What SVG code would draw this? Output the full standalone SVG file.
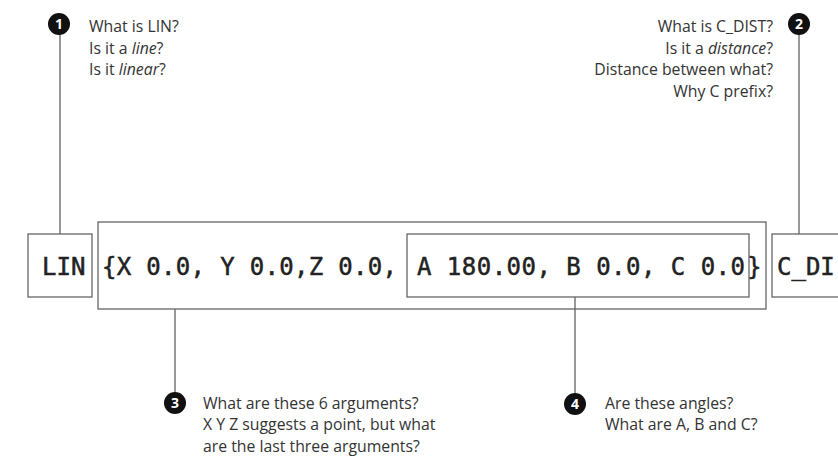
<svg xmlns="http://www.w3.org/2000/svg" width="838" height="457" viewBox="0 0 838 457">
<style>
.q{font-family:"Open Sans","Noto Sans",sans-serif;font-size:15.8px;fill:#333}
.code{font-family:"DejaVu Sans Mono","Liberation Mono",monospace;font-size:24px;fill:#222;stroke:#222;stroke-width:0.5}
.box{fill:none;stroke:#666;stroke-width:1.3}
.ln{stroke:#555;stroke-width:1.2;fill:none}
.badge circle{fill:#111}
.badge text{font-family:"Open Sans",sans-serif;font-size:14px;font-weight:bold;fill:#fff;text-anchor:middle}
</style>
<g id="connectors">
<line class="ln" x1="60" y1="24" x2="60" y2="234"/>
<line class="ln" x1="799" y1="24" x2="799" y2="234"/>
<line class="ln" x1="175" y1="309" x2="175" y2="403"/>
<line class="ln" x1="575" y1="297" x2="575" y2="404"/>
</g>
<g id="lin">
<rect class="box" x="28" y="234" width="64" height="63"/>
<text class="code" x="42" y="275">LIN</text>
</g>
<g id="args">
<rect class="box" x="98" y="222" width="668" height="87"/>
<text class="code" x="102" y="275" textLength="295" lengthAdjust="spacing">{X 0.0, Y 0.0,Z 0.0,</text>
<text class="code" x="747" y="275">}</text>
</g>
<g id="angles">
<rect class="box" x="407" y="234" width="342" height="63"/>
<text class="code" x="417" y="275" textLength="328" lengthAdjust="spacing">A 180.00, B 0.0, C 0.0</text>
</g>
<g id="cdist">
<rect class="box" x="772" y="234" width="80" height="63"/>
<text class="code" x="777" y="275">C_DI</text>
</g>
<g id="note1">
<g class="badge"><circle cx="59" cy="24" r="11"/><text x="59" y="29">1</text></g>
<text class="q" x="89" y="32">What is LIN?</text>
<text class="q" x="89" y="53.5">Is it  a <tspan font-style="italic">line</tspan>?</text>
<text class="q" x="89" y="75">Is it <tspan font-style="italic">linear</tspan>?</text>
</g>
<g id="note2">
<g class="badge"><circle cx="799" cy="24" r="11"/><text x="799" y="29">2</text></g>
<text class="q" x="773" y="32" text-anchor="end">What is C_DIST?</text>
<text class="q" x="773" y="53.5" text-anchor="end">Is it a <tspan font-style="italic">distance</tspan>?</text>
<text class="q" x="773" y="75" text-anchor="end">Distance between what?</text>
<text class="q" x="773" y="96.5" text-anchor="end">Why C prefix?</text>
</g>
<g id="note3">
<g class="badge"><circle cx="175" cy="403" r="11"/><text x="175" y="408">3</text></g>
<text class="q" x="203" y="408.5">What are these 6 arguments?</text>
<text class="q" x="203" y="430">X Y Z suggests a point, but what</text>
<text class="q" x="203" y="451.5">are the last three arguments?</text>
</g>
<g id="note4">
<g class="badge"><circle cx="575" cy="404" r="11"/><text x="575" y="409">4</text></g>
<text class="q" x="605" y="408.5">Are these angles?</text>
<text class="q" x="605" y="430">What are A, B and C?</text>
</g>
</svg>
